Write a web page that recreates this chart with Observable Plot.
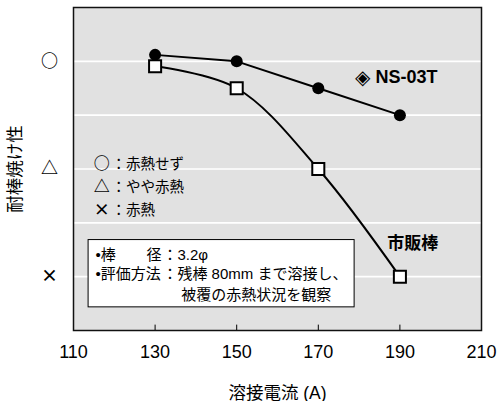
<!DOCTYPE html>
<html><head><meta charset="utf-8">
<script src="https://cdn.jsdelivr.net/npm/d3@7"></script>
<script src="https://cdn.jsdelivr.net/npm/@observablehq/plot@0.6"></script>
<style>body{margin:0;background:#fff} svg{display:block}</style>
</head><body><div id="chart"></div>
<script>
// Data
const currents = [130, 150, 170, 190];              // 溶接電流 (A)
const ns03t    = [4.12, 4.0, 3.5, 3.0];             // NS-03T score (4=○, 2=△, 0=×)
const market   = [3.91, 3.5, 2.0, 0.0];             // 市販棒
const xTicks = [110, 130, 150, 170, 190, 210];
const innerTicks = [130, 150, 170, 190];
const yTicks = [0, 2, 4];
const yTickLabels = ["×", "△", "○"];
const gridLevels = [0, 1, 2, 3, 4];

// legend annotations (data coords)
const legendSymbols = ["○", "△", "×"];
const legendTexts = ["：赤熱せず", "：やや赤熱", "：赤熱"];
const legendY = [2.08, 1.65, 1.24];

// note box lines
const noteLeft = ["•棒", "•評価方法"];
const noteValues = ["：3.2φ", "：残棒 80mm まで溶接し、", "被覆の赤熱状況を観察"];
const noteY = [0.40, 0.047, -0.345];

const nsData = currents.map((c, i) => ({x: c, y: ns03t[i]}));
const mkData = currents.map((c, i) => ({x: c, y: market[i]}));

const jp = "'Liberation Sans','Noto Sans CJK JP',sans-serif";
const cjk = "'Noto Sans CJK JP',sans-serif";

const chart = Plot.plot({
  width: 500, height: 401,
  marginTop: 7, marginBottom: 71, marginLeft: 73, marginRight: 19,
  style: {fontFamily: jp, background: "#fff", color: "#000"},
  x: {domain: [110, 210]},
  y: {domain: [-1, 5]},
  marks: [
    Plot.frame({fill: "#e1e1e1"}),
    Plot.ruleY(gridLevels, {stroke: "#fff", strokeWidth: 1.6}),
    // note box
    Plot.rect([{x1: 113.7, x2: 178.9, y1: 0.68, y2: -0.57}], {x1: "x1", x2: "x2", y1: "y1", y2: "y2", fill: "#fff", stroke: "#000", strokeWidth: 1}),
    Plot.text([noteLeft[0]], {x: 115.4, y: noteY[0], text: d => d, textAnchor: "start", fontSize: 15}),
    Plot.text(["径"], {x: 131.6, y: noteY[0], text: d => d, textAnchor: "end", fontSize: 15}),
    Plot.text([noteLeft[1]], {x: 115.4, y: noteY[1], text: d => d, textAnchor: "start", fontSize: 15}),
    Plot.text([noteValues[0]], {x: 131.8, y: noteY[0], text: d => d, textAnchor: "start", fontSize: 15}),
    Plot.text([noteValues[1]], {x: 131.8, y: noteY[1], text: d => d, textAnchor: "start", fontSize: 15}),
    Plot.text([noteValues[2]], {x: 136.4, y: noteY[2], text: d => d, textAnchor: "start", fontSize: 15}),
    // legend
    Plot.text(legendSymbols, {x: 116.9, y: (d, i) => legendY[i], text: d => d, textAnchor: "middle", fontSize: 16, fontWeight: "bold", fontFamily: cjk, lineHeight: 0.9}),
    Plot.text(legendTexts, {x: 119.3, y: (d, i) => legendY[i], text: d => d, textAnchor: "start", fontSize: 14.5, fontFamily: cjk}),
    // series
    Plot.line(mkData, {x: "x", y: "y", curve: "catmull-rom", stroke: "#000", strokeWidth: 2}),
    Plot.line(nsData, {x: "x", y: "y", curve: "linear", stroke: "#000", strokeWidth: 2}),
    Plot.dot(nsData, {x: "x", y: "y", r: 6, fill: "#000", stroke: "none"}),
    Plot.dot(mkData, {x: "x", y: "y", r: 6.8, symbol: "square", fill: "#fff", stroke: "#000", strokeWidth: 2}),
    // series labels
    Plot.text(["◈"], {x: 178.9, y: 3.70, text: d => d, textAnchor: "start", fontSize: 20, fontFamily: cjk}),
    Plot.text(["NS-03T"], {x: 184.0, y: 3.70, text: d => d, textAnchor: "start", fontSize: 18, fontWeight: "bold", style: {letterSpacing: "0.6px"}}),
    Plot.text(["市販棒"], {x: 186.9, y: 0.62, text: d => d, textAnchor: "start", fontSize: 17, fontWeight: "bold", fontFamily: cjk}),
    // frame & ticks
    Plot.frame({stroke: "#111", strokeWidth: 1.5}),
    Plot.ruleX(innerTicks, {y1: -1, y2: -0.9, stroke: "#000", strokeWidth: 1}),
    Plot.axisX(xTicks, {tickSize: 0, tickPadding: 15, fontSize: 18, label: null, style: {letterSpacing: "1.2px"}}),
    Plot.axisY(yTicks, {tickSize: 0, tickPadding: 24, textAnchor: "middle", fontSize: 17, fontWeight: "bold", fontFamily: cjk, label: null,
      tickFormat: d => yTickLabels[yTicks.indexOf(d)]}),
    Plot.text(["溶接電流 (A)"], {frameAnchor: "bottom", dy: 68, textAnchor: "middle", text: d => d, fontSize: 17.5}),
    Plot.text(["耐棒焼け性"], {frameAnchor: "left", dx: -58, rotate: -90, textAnchor: "middle", text: d => d, fontSize: 17.5, fontFamily: cjk})
  ]
});
document.getElementById("chart").append(chart);
</script>
</body></html>
